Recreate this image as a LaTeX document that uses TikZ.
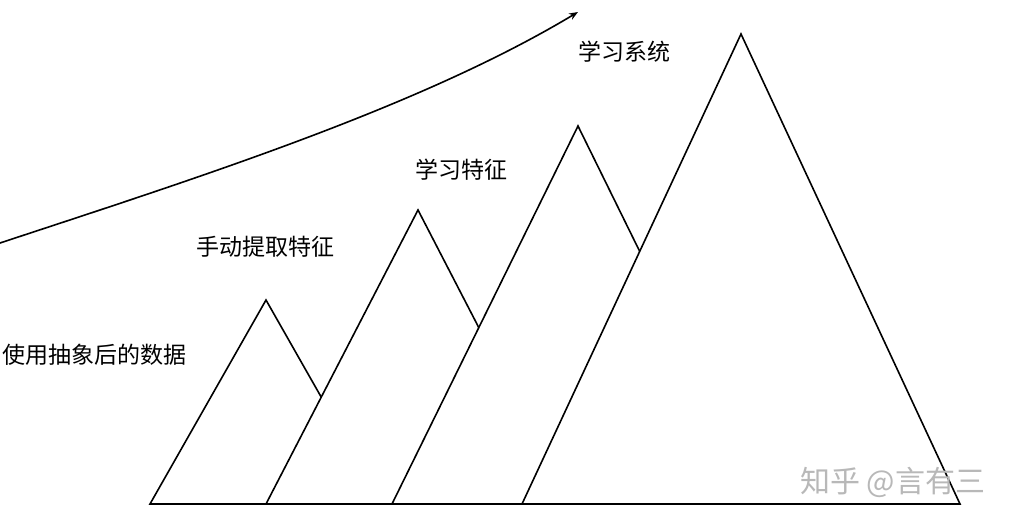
\documentclass[tikz,border=0pt]{standalone}
\usepackage{fontspec}
\setmainfont{Noto Sans CJK SC}
\usetikzlibrary{arrows.meta}

\begin{document}
\begin{tikzpicture}[x=1pt, y=-1pt,
  mountain/.style={draw, fill=white, line width=1.6pt, line join=miter},
  stage label/.style={anchor=west, font=\fontsize{23}{23}\selectfont, inner sep=0pt}]
  \useasboundingbox (0,0) rectangle (1014,524);

  % Kurve
  \coordinate (start) at (0,243);
  \coordinate (tip) at (578,12);
  \draw[line width=1.6pt, -{Stealth[length=9pt, width=7pt]}] (start) .. controls (200,177) and (420,107) .. (tip);

  % Berge (von hinten nach vorne)
  \draw[mountain] (150,504) -- (266,300) -- (382,504) -- cycle;
  \draw[mountain] (266,504) -- (418,210) -- (570,504) -- cycle;
  \draw[mountain] (392,504) -- (578,126) -- (764,504) -- cycle;
  \draw[mountain] (522,504) -- (741,34) -- (960,504) -- cycle;
  \draw[line width=2.4pt] (150,504) -- (960,504);

  % Beschriftungen
  \node[stage label] (data) at (2,355) {使用抽象后的数据};
  \node[stage label] (manual) at (196,247) {手动提取特征};
  \node[stage label] (learnfeat) at (415,170) {学习特征};
  \node[stage label] (learnsys) at (578,52) {学习系统};
  \node[anchor=west, inner sep=0pt, text=black!28, font=\fontsize{30}{30}\selectfont] (mark) at (800,482) {知乎 @言有三};
\end{tikzpicture}
\end{document}
